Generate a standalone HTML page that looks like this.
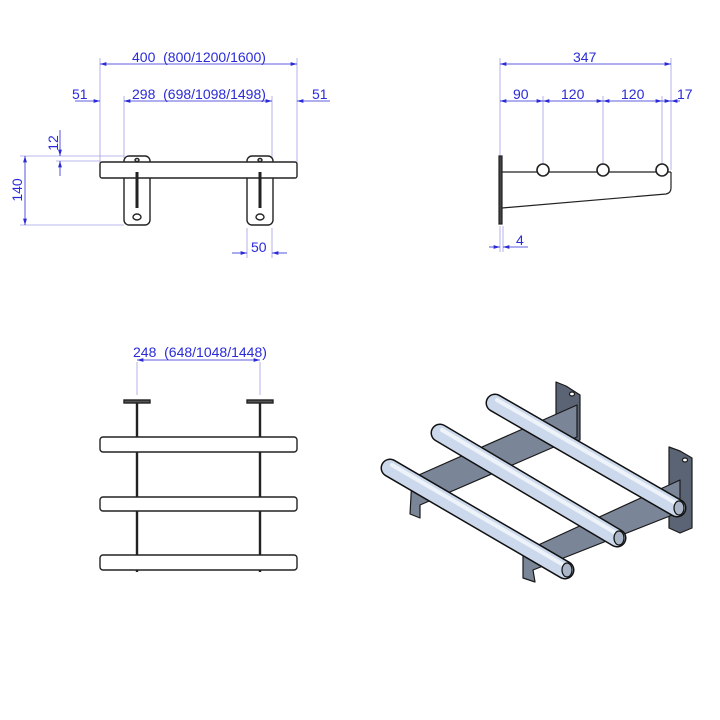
<!DOCTYPE html>
<html><head><meta charset="utf-8"><style>
html,body{margin:0;padding:0;background:#fff}
svg{display:block}
text{font-family:"Liberation Sans",sans-serif;font-size:14px;fill:#2a2ad8}
</style></head><body>
<svg width="720" height="720" viewBox="0 0 720 720" xmlns="http://www.w3.org/2000/svg">
<defs>
<marker id="a" viewBox="0 0 10 6" refX="10" refY="3" markerWidth="8" markerHeight="5" orient="auto-start-reverse"><path d="M0,0L10,3L0,6z" fill="#2a2ad8"/></marker>
</defs>
<g stroke="#a0a0e6" stroke-width="0.8" fill="none">
<line x1="100" y1="58" x2="100" y2="165"/><line x1="297" y1="58" x2="297" y2="165"/>
<line x1="124" y1="96" x2="124" y2="158"/><line x1="272" y1="96" x2="272" y2="158"/>
<line x1="20" y1="156" x2="124" y2="156"/><line x1="20" y1="225" x2="124" y2="225"/>
<line x1="56" y1="161" x2="100" y2="161"/>
<line x1="247" y1="228" x2="247" y2="258"/><line x1="272" y1="228" x2="272" y2="258"/>
<line x1="500" y1="58" x2="500" y2="156"/><line x1="671" y1="58" x2="671" y2="170"/>
<line x1="543" y1="96" x2="543" y2="166"/><line x1="603" y1="96" x2="603" y2="166"/><line x1="662" y1="96" x2="662" y2="166"/>
<line x1="500" y1="226" x2="500" y2="252"/><line x1="503" y1="226" x2="503" y2="252"/>
<line x1="137" y1="362" x2="137" y2="395"/><line x1="260" y1="362" x2="260" y2="395"/>
</g>
<g stroke="#2a2ad8" stroke-width="0.8" fill="none">
<line x1="100" y1="64" x2="297" y2="64" marker-start="url(#a)" marker-end="url(#a)"/>
<line x1="75" y1="101" x2="100" y2="101" marker-end="url(#a)"/>
<line x1="124" y1="101" x2="272" y2="101" marker-start="url(#a)" marker-end="url(#a)"/>
<line x1="297" y1="101" x2="330" y2="101" marker-start="url(#a)"/>
<line x1="60" y1="130" x2="60" y2="156" marker-end="url(#a)"/>
<line x1="60" y1="161" x2="60" y2="176" marker-start="url(#a)"/>
<line x1="25" y1="156" x2="25" y2="225" marker-start="url(#a)" marker-end="url(#a)"/>
<line x1="232" y1="253" x2="247" y2="253" marker-end="url(#a)"/>
<line x1="272" y1="253" x2="287" y2="253" marker-start="url(#a)"/>
<line x1="500" y1="64" x2="671" y2="64" marker-start="url(#a)" marker-end="url(#a)"/>
<line x1="500" y1="101" x2="543" y2="101" marker-start="url(#a)" marker-end="url(#a)"/>
<line x1="543" y1="101" x2="603" y2="101" marker-start="url(#a)" marker-end="url(#a)"/>
<line x1="603" y1="101" x2="662" y2="101" marker-start="url(#a)" marker-end="url(#a)"/>
<line x1="662" y1="101" x2="671" y2="101" marker-end="url(#a)"/>
<line x1="671" y1="101" x2="680" y2="101" marker-start="url(#a)"/>
<line x1="489" y1="247" x2="500" y2="247" marker-end="url(#a)"/>
<line x1="503" y1="247" x2="528" y2="247" marker-start="url(#a)"/>
<line x1="137" y1="360" x2="260" y2="360" marker-start="url(#a)" marker-end="url(#a)"/>
</g>
<text x="132" y="62">400 &#160;(800/1200/1600)</text>
<text x="72" y="99">51</text>
<text x="132" y="99">298 &#160;(698/1098/1498)</text>
<text x="312" y="99">51</text>
<text transform="translate(58,143) rotate(-90)" text-anchor="middle">12</text>
<text transform="translate(22,190) rotate(-90)" text-anchor="middle">140</text>
<text x="251" y="252">50</text>
<text x="573" y="62">347</text>
<text x="513" y="99">90</text>
<text x="561" y="99">120</text>
<text x="621" y="99">120</text>
<text x="677" y="99">17</text>
<text x="516" y="245">4</text>
<text x="133" y="357">248 &#160;(648/1048/1448)</text>

<g stroke="#222" stroke-width="1.4" fill="#fff">
<rect x="124" y="156" width="26" height="69" rx="5"/>
<rect x="247" y="156" width="26" height="69" rx="5"/>
<rect x="100" y="162" width="197" height="16" rx="2"/>
<line x1="137" y1="172" x2="137" y2="208" stroke-width="3"/>
<line x1="260" y1="172" x2="260" y2="208" stroke-width="3"/>
<ellipse cx="137" cy="217" rx="4" ry="3"/><ellipse cx="260" cy="217" rx="4" ry="3"/>
<ellipse cx="137" cy="160" rx="2" ry="1.5"/><ellipse cx="260" cy="160" rx="2" ry="1.5"/>
</g>
<g stroke="#222" stroke-width="1.2" fill="none">
<rect x="499" y="156" width="3" height="68" fill="#444"/>
<line x1="502" y1="172" x2="671" y2="172"/>
<path d="M502,208 L666,194 Q671,193 671,188 L671,172"/>
<circle cx="543" cy="170" r="6" fill="#fff" stroke-width="1.6"/>
<circle cx="603" cy="170" r="6" fill="#fff" stroke-width="1.6"/>
<circle cx="662" cy="170" r="6" fill="#fff" stroke-width="1.6"/>
</g>
<g stroke="#222" stroke-width="1.4" fill="#fff">
<rect x="124" y="400" width="26" height="3" fill="#555"/>
<rect x="247" y="400" width="26" height="3" fill="#555"/>
<line x1="137" y1="403" x2="137" y2="572" stroke-width="2.4"/>
<line x1="260" y1="403" x2="260" y2="572" stroke-width="2.4"/>
<rect x="100" y="437" width="197" height="15" rx="3"/>
<rect x="100" y="497" width="197" height="14" rx="3"/>
<rect x="100" y="555" width="197" height="15" rx="3"/>
</g>
<g stroke="#1a1a1a" stroke-width="1.2" stroke-linejoin="round">
<polygon points="556,382 566,386 580,395 580,440 566,446 556,440" fill="#5a6475"/>
<polygon points="669,447 680,451 692,458 692,528 680,533 669,528" fill="#5a6475"/>
<polygon points="412,478 577,405 577,437 420,505 420,518 410,514" fill="#7a8598"/>
<polygon points="523,552 680,480 680,512 533,570 535,582 523,578" fill="#7a8598"/>
<ellipse cx="572" cy="394" rx="2.5" ry="2" fill="#fff"/>
<ellipse cx="685" cy="460" rx="2.5" ry="2" fill="#fff"/>
</g>
<g stroke-linecap="round">
<line x1="390" y1="468" x2="565" y2="570" stroke="#111" stroke-width="19"/>
<line x1="390" y1="468" x2="565" y2="570" stroke="#ccd9ec" stroke-width="16"/>
<line x1="392" y1="465" x2="567" y2="567" stroke="#eef3fa" stroke-width="4"/>
<line x1="440" y1="433" x2="617" y2="538" stroke="#111" stroke-width="19"/>
<line x1="440" y1="433" x2="617" y2="538" stroke="#ccd9ec" stroke-width="16"/>
<line x1="442" y1="430" x2="619" y2="535" stroke="#eef3fa" stroke-width="4"/>
<line x1="495" y1="403" x2="677" y2="508" stroke="#111" stroke-width="19"/>
<line x1="495" y1="403" x2="677" y2="508" stroke="#ccd9ec" stroke-width="16"/>
<line x1="497" y1="400" x2="679" y2="505" stroke="#eef3fa" stroke-width="4"/>
</g>
<g stroke="#111" stroke-width="1.2" fill="#aab6c8">
<ellipse cx="567" cy="570" rx="5" ry="7"/>
<ellipse cx="619" cy="538" rx="5" ry="7"/>
<ellipse cx="679" cy="508" rx="5" ry="7"/>
</g>
</svg>
</body></html>
